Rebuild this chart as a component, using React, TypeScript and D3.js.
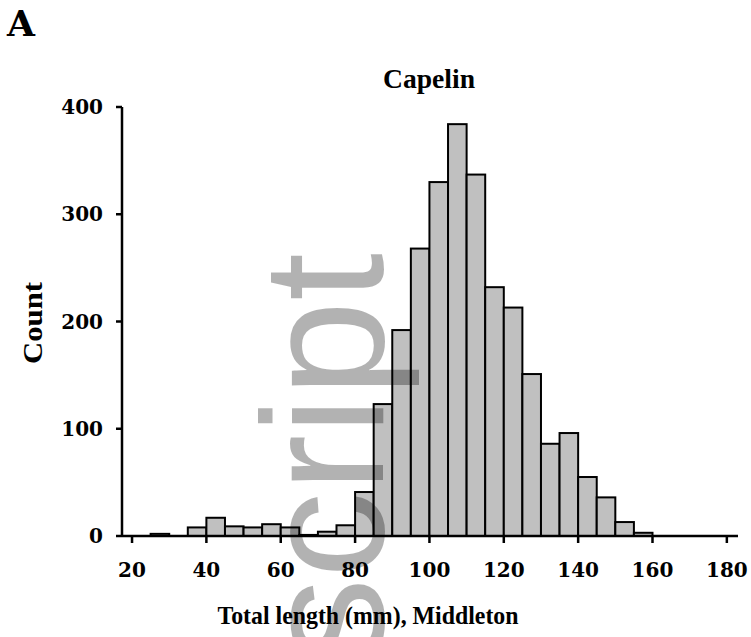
import React from "react";
import * as d3 from "d3";

// histogram of capelin total length, 5 mm bins
const binStarts = [25, 30, 35, 40, 45, 50, 55, 60, 65, 70, 75, 80, 85, 90, 95, 100, 105, 110, 115, 120, 125, 130, 135, 140, 145, 150, 155];
const counts = [2, 0, 8, 17, 9, 8, 11, 8, 1, 4, 10, 41, 123, 192, 268, 330, 384, 337, 232, 213, 151, 86, 96, 55, 36, 13, 3];
const binWidth = 5;
const xTicks = [20, 40, 60, 80, 100, 120, 140, 160, 180];
const yTicks = [0, 100, 200, 300, 400];

const W = 751;
const H = 637;
const serif = "'DejaVu Serif', serif";
const titleFont = "'Liberation Serif', 'Times New Roman', serif";

export default function App() {
  const x = d3.scaleLinear().domain([17.3, 183]).range([122, 738]);
  const y = d3.scaleLinear().domain([0, 400]).range([536, 107]);
  const bins = binStarts.map((s, i) => ({ x0: s, x1: s + binWidth, n: counts[i] }));

  return (
    <svg width={W} height={H} style={{ position: "absolute", left: 0, top: 0, background: "#fff" }}>
      <text x={7} y={36} fontFamily={serif} fontWeight="bold" fontSize={36}>A</text>
      <text x={429} y={88} textAnchor="middle" fontFamily={titleFont} fontWeight="bold" fontSize={28}
        textLength={92} lengthAdjust="spacingAndGlyphs">Capelin</text>

      <g>
        {bins.map((b, i) => (
          <rect key={i}
            x={x(b.x0)} y={y(b.n)}
            width={x(b.x1) - x(b.x0)} height={y(0) - y(b.n)}
            fill="#c0c0c0" stroke="#000" strokeWidth={2} />
        ))}
      </g>

      {/* axes */}
      <line x1={x.range()[0]} x2={x.range()[1]} y1={y(0)} y2={y(0)} stroke="#000" strokeWidth={2.5} />
      <line x1={x.range()[0]} x2={x.range()[0]} y1={y(0)} y2={y(400)} stroke="#000" strokeWidth={2.5} />
      {yTicks.map(t => (
        <g key={t}>
          <line x1={116} x2={122} y1={y(t)} y2={y(t)} stroke="#000" strokeWidth={2.5} />
          <text x={103} y={y(t)} dy="0.36em" textAnchor="end" fontFamily={serif} fontWeight="bold" fontSize={20}>{t}</text>
        </g>
      ))}
      {xTicks.map(t => (
        <g key={t}>
          <line x1={x(t)} x2={x(t)} y1={y(0)} y2={y(0) + 7} stroke="#000" strokeWidth={2.5} />
          <text x={x(t)} y={577} textAnchor="middle" fontFamily={serif} fontWeight="bold" fontSize={20}>{t}</text>
        </g>
      ))}
      <text transform="translate(42,323) rotate(-90)" textAnchor="middle" fontFamily={titleFont} fontWeight="bold" fontSize={28}
        textLength={82} lengthAdjust="spacingAndGlyphs">Count</text>
      <text x={368} y={624} textAnchor="middle" fontFamily={titleFont} fontWeight="bold" fontSize={26}
        textLength={301} lengthAdjust="spacingAndGlyphs">Total length (mm), Middleton</text>

      {/* watermark */}
      <text transform="translate(383,253) rotate(-90)" textAnchor="end"
        fontFamily="'Liberation Sans', Arial, sans-serif" fontSize={172}
        fill="#000" fillOpacity={0.3}>script</text>
    </svg>
  );
}
